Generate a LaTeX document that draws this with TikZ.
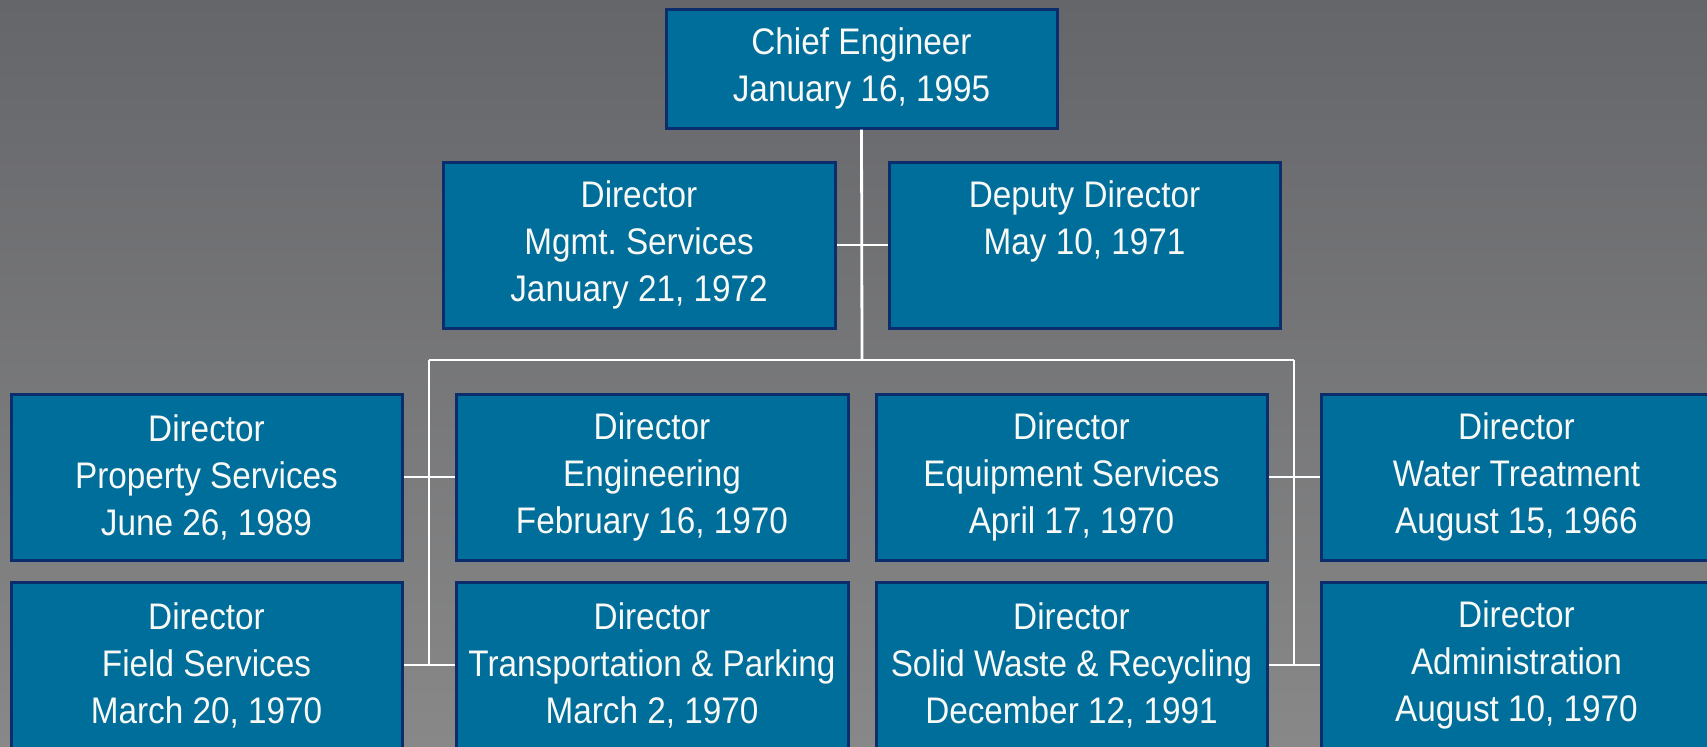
\documentclass[tikz,border=0pt]{standalone}
\usepackage{fontspec}
\setmainfont{Liberation Sans}[FakeStretch=0.9]
\frenchspacing
\definecolor{boxfill}{HTML}{006E9B}
\definecolor{boxline}{HTML}{0B2D6B}
\definecolor{bgtop}{HTML}{65666A}
\definecolor{bgbot}{HTML}{888888}
\definecolor{txt}{HTML}{F8F8F4}
\tikzset{
  orgbox/.style={draw=boxline, line width=1.5pt, fill=boxfill, text=txt,
    align=center, inner sep=0pt, minimum width=195.5pt,
    font=\fontsize{18.5pt}{23.5pt}\selectfont},
  midbox/.style={orgbox, minimum height=83pt},
  link/.style={draw=white, line width=1.4pt}
}
\begin{document}
\begin{tikzpicture}[x=0.5pt,y=-0.5pt]
\useasboundingbox (0,0) rectangle (1707,746);
\clip (0,0) rectangle (1707,746);
\shade[top color=bgtop, bottom color=bgbot] (0,0) rectangle (1707,746);
% boxes
\node[orgbox, minimum height=59.5pt] (chief) at (861.5,68.5) {Chief Engineer\\January 16, 1995};
\node[midbox, minimum width=196pt] (mgmt) at (639,245) {Director\\Mgmt.\ Services\\January 21, 1972};
\node[midbox] (deputy) at (1084.5,245) {Deputy Director\\May 10, 1971\\\vphantom{Jy,}};
\node[midbox] (prop) at (206.5,477) {Director\\Property Services\\June 26, 1989};
\node[midbox, minimum width=196pt] (eng) at (652,477) {Director\\Engineering\\February 16, 1970};
\node[midbox] (equip) at (1071.5,477) {Director\\Equipment Services\\April 17, 1970};
\node[midbox] (water) at (1516.5,477) {Director\\Water Treatment\\August 15, 1966};
\node[midbox] (field) at (206.5,665) {Director\\Field Services\\March 20, 1970};
\node[midbox, minimum width=196pt] (trans) at (652,665) {Director\\Transportation \& Parking\\March 2, 1970};
\node[midbox] (solid) at (1071.5,665) {Director\\Solid Waste \& Recycling\\December 12, 1991};
\node[midbox] (admin) at (1516.5,665) {Director\\Administration\\August 10, 1970};
% bus coordinates
\coordinate (busc) at (862,360);
\coordinate (busl) at (429,360);
\coordinate (busr) at (1294,360);
\coordinate (endl) at (429,665);
\coordinate (endr) at (1294,665);
% connectors
\draw[link] (chief.south) -- (busc);
\draw[link] (mgmt.east) -- (deputy.west);
\draw[link] (busl) -- (busr);
\draw[link] (busl) -- (endl);
\draw[link] (busr) -- (endr);
\draw[link] (prop.east) -- (eng.west);
\draw[link] (field.east) -- (trans.west);
\draw[link] (equip.east) -- (water.west);
\draw[link] (solid.east) -- (admin.west);
\end{tikzpicture}
\end{document}
